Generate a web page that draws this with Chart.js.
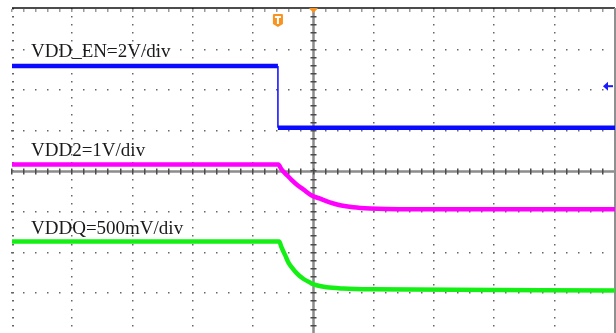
<!DOCTYPE html>
<html>
<head>
<meta charset="utf-8">
<title>VDD_EN / VDD2 / VDDQ power-down</title>
<script src="https://cdn.jsdelivr.net/npm/chart.js@4.4.0/dist/chart.umd.min.js"></script>
<style>
  html, body { margin: 0; padding: 0; background: #fff; overflow: hidden; }
  #wrap { position: relative; width: 616px; height: 336px; }
</style>
</head>
<body>
<div id="wrap"><canvas id="scope"></canvas></div>
<script>
// Screen is 10 x 8 divisions; all values are in divisions, y = 0 is the centre line
var enTime = [0, 4.41, 4.41, 10];
var enLevel = [2.6, 2.6, 1.08, 1.08];

var vdd2Time = [0, 4.416, 4.47, 4.56, 4.64, 4.72, 4.83, 4.97, 5.11, 5.27, 5.44, 5.66, 5.94, 6.43, 10];
var vdd2Level = [0.17, 0.17, 0.05, -0.09, -0.21, -0.32, -0.44, -0.59, -0.67, -0.76, -0.83, -0.88, -0.91, -0.93, -0.93];

var vddqTime = [0, 4.43, 4.47, 4.53, 4.58, 4.64, 4.72, 4.83, 4.94, 5.05, 5.22, 5.49, 5.94, 10];
var vddqLevel = [-1.72, -1.72, -1.87, -2.06, -2.23, -2.36, -2.5, -2.64, -2.73, -2.8, -2.85, -2.88, -2.9, -2.93];

var channelNames = ["VDD_EN=2V/div", "VDD2=1V/div", "VDDQ=500mV/div"];
var triggerTime = 4.41;
var enGroundLevel = 2.1;

function toPoints(xs, ys) {
    return xs.map(function (x, i) { return {x: x, y: ys[i]}; });
}

// Graticule: dotted divisions, solid centre axes with minor ticks
var graticule = {
    id: 'graticule',
    beforeDatasetsDraw: function (chart) {
        var ctx = chart.ctx, xs = chart.scales.x, ys = chart.scales.y;
        var i, v, px, py;
        ctx.save();

        // vertical dotted lines
        ctx.fillStyle = '#666';
        for (i = 0; i < 10; i++) {
            if (i === 5) continue;
            px = Math.round(xs.getPixelForValue(i));
            for (v = -4; v <= 4.001; v += 0.2) {
                py = Math.round(ys.getPixelForValue(v));
                ctx.fillRect(px - (i === 0 ? 0 : 1), py - 1, i === 0 ? 2 : 1.5, 1.5);
            }
        }
        // horizontal dotted lines
        for (i = -3; i <= 3; i++) {
            if (i === 0) continue;
            py = Math.round(ys.getPixelForValue(i));
            for (v = 0; v <= 10.001; v += 0.2) {
                px = Math.round(xs.getPixelForValue(v));
                ctx.fillRect(px - 1, py - 1, 1.5, 1.5);
            }
        }

        // centre axes
        var cx = xs.getPixelForValue(5), cy = ys.getPixelForValue(0);
        ctx.strokeStyle = '#8c8c8c';
        ctx.lineWidth = 2.5;
        ctx.beginPath();
        ctx.moveTo(cx, ys.getPixelForValue(4));
        ctx.lineTo(cx, ys.getPixelForValue(-4));
        ctx.moveTo(xs.getPixelForValue(0), cy);
        ctx.lineTo(xs.getPixelForValue(10), cy);
        ctx.stroke();

        ctx.fillStyle = '#4a4a4a';
        for (v = 0; v <= 10.001; v += 0.2) {
            px = Math.round(xs.getPixelForValue(v));
            ctx.fillRect(px - 1, cy - 3, 1.5, 6);
        }
        for (v = -4; v <= 4.001; v += 0.2) {
            py = Math.round(ys.getPixelForValue(v));
            ctx.fillRect(cx - 3, py - 1, 6, 1.5);
        }

        // top border with ticks
        var top = ys.getPixelForValue(4);
        ctx.strokeStyle = '#111';
        ctx.lineWidth = 1.5;
        ctx.beginPath();
        ctx.moveTo(xs.getPixelForValue(0), top - 1);
        ctx.lineTo(xs.getPixelForValue(10), top - 1);
        ctx.stroke();
        ctx.fillStyle = '#9a9a9a';
        for (v = 0; v <= 10.001; v += 0.2) {
            px = Math.round(xs.getPixelForValue(v));
            ctx.fillRect(px - 1, top, 1.5, 3);
        }

        // right edge bar
        var right = xs.getPixelForValue(10);
        ctx.strokeStyle = '#909090';
        ctx.lineWidth = 2;
        ctx.beginPath();
        ctx.moveTo(right, top - 1);
        ctx.lineTo(right, ys.getPixelForValue(-4));
        ctx.stroke();
        ctx.restore();
    },
    afterDatasetsDraw: function (chart) {
        var ctx = chart.ctx, xs = chart.scales.x, ys = chart.scales.y;
        ctx.save();

        // channel labels
        ctx.fillStyle = '#1a1a1a';
        ctx.font = '19px "Liberation Serif", "Times New Roman", serif';
        ctx.textBaseline = 'alphabetic';
        var labelY = [2.815, 0.37, -1.53];
        channelNames.forEach(function (name, i) {
            ctx.fillText(name, xs.getPixelForValue(0.315), ys.getPixelForValue(labelY[i]));
        });

        // trigger position marker on top edge
        var top = ys.getPixelForValue(4);
        var cx = xs.getPixelForValue(5);
        ctx.fillStyle = '#f7931e';
        ctx.beginPath();
        ctx.moveTo(cx - 4.5, top - 1);
        ctx.lineTo(cx + 4.5, top - 1);
        ctx.lineTo(cx, top + 4);
        ctx.closePath();
        ctx.fill();

        // trigger "T" badge
        var tx = xs.getPixelForValue(triggerTime);
        var ty = top + 5;
        ctx.beginPath();
        ctx.moveTo(tx - 5, ty + 1);
        ctx.quadraticCurveTo(tx - 5, ty, tx - 4, ty);
        ctx.lineTo(tx + 4, ty);
        ctx.quadraticCurveTo(tx + 5, ty, tx + 5, ty + 1);
        ctx.lineTo(tx + 5, ty + 10);
        ctx.lineTo(tx, ty + 13);
        ctx.lineTo(tx - 5, ty + 10);
        ctx.closePath();
        ctx.fill();
        ctx.fillStyle = '#fff';
        ctx.fillRect(tx - 3, ty + 2, 6, 2);
        ctx.fillRect(tx - 1, ty + 2, 2, 8);

        // channel 1 ground reference arrow at right edge
        var gx = xs.getPixelForValue(10) - 2;
        var gy = ys.getPixelForValue(enGroundLevel);
        ctx.fillStyle = '#1a1aff';
        ctx.strokeStyle = '#1a1aff';
        ctx.lineWidth = 2;
        ctx.beginPath();
        ctx.moveTo(gx - 10, gy);
        ctx.lineTo(gx - 5, gy - 4.5);
        ctx.lineTo(gx - 5, gy + 4.5);
        ctx.closePath();
        ctx.fill();
        ctx.beginPath();
        ctx.moveTo(gx - 6, gy);
        ctx.lineTo(gx, gy);
        ctx.stroke();
        ctx.restore();
    }
};

var ctx = document.getElementById('scope').getContext('2d');
var scope = new Chart(ctx, {
    type: 'line',
    data: {
        datasets: [{
            label: 'VDD_EN',
            data: toPoints(enTime, enLevel),
            borderColor: '#0a0aff',
            borderWidth: 4.5,
            tension: 0,
            segment: {
                borderWidth: function (c) {
                    return c.p0.parsed.x === c.p1.parsed.x ? 1.5 : 4.5;
                }
            }
        }, {
            label: 'VDD2',
            data: toPoints(vdd2Time, vdd2Level),
            borderColor: '#ff00ff',
            borderWidth: 4.5,
            cubicInterpolationMode: 'monotone'
        }, {
            label: 'VDDQ',
            data: toPoints(vddqTime, vddqLevel),
            borderColor: '#14f014',
            borderWidth: 4.5,
            cubicInterpolationMode: 'monotone'
        }]
    },
    options: {
        responsive: true,
        maintainAspectRatio: false,
        animation: false,
        events: [],
        layout: {padding: {left: 12, top: 9, right: 1, bottom: 2}},
        elements: {point: {radius: 0}},
        plugins: {
            legend: {display: false},
            tooltip: {enabled: false}
        },
        scales: {
            x: {type: 'linear', min: 0, max: 10, display: false},
            y: {type: 'linear', min: -4, max: 4, display: false}
        }
    },
    plugins: [graticule]
});
</script>
</body>
</html>
